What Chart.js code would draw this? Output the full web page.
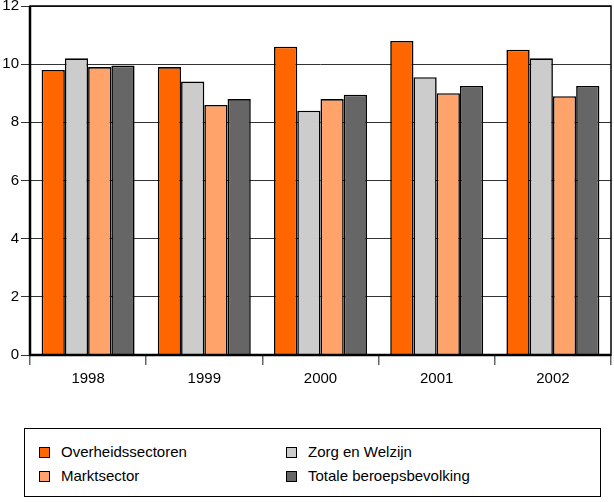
<!DOCTYPE html>
<html>
<head>
<meta charset="utf-8">
<script src="https://cdn.jsdelivr.net/npm/chart.js@4"></script>
<style>
  html, body { margin: 0; padding: 0; background: #fff; }
  body { width: 614px; height: 502px; position: relative; font-family: "Liberation Sans", Arial, sans-serif; }
  #wrap { position: absolute; left: 0; top: 0; width: 614px; height: 400px; }
  #legend {
    position: absolute; left: 24px; top: 428px; width: 577px; height: 69px;
    border: 1.5px solid #000; box-sizing: border-box;
  }
  .item { position: absolute; font-size: 15px; color: #000; line-height: 18px; }
  .item i {
    position: absolute; left: -22px; top: 4px; width: 9px; height: 9px;
    border: 1.5px solid #000;
  }
</style>
</head>
<body>
<div id="wrap"><canvas id="chart" width="614" height="400"></canvas></div>
<div id="legend"></div>
<script>
'use strict';

const years = ['1998', '1999', '2000', '2001', '2002'];
const seriesNames = ['Overheidssectoren', 'Zorg en Welzijn', 'Marktsector', 'Totale beroepsbevolking'];
const overheid = [9.8, 9.9, 10.6, 10.8, 10.5];
const zorg = [10.2, 9.4, 8.4, 9.55, 10.2];
const markt = [9.9, 8.6, 8.8, 9.0, 8.9];
const totaal = [9.95, 8.8, 8.95, 9.25, 9.25];
const yTicks = [0, 2, 4, 6, 8, 10, 12];

const colors = ['#ff6600', '#cccccc', '#ffa36b', '#666666'];
const seriesData = [overheid, zorg, markt, totaal];

// border round the plot area
const frame = {
    id: 'frame',
    afterDraw(chart) {
        const { ctx, chartArea: a } = chart;
        ctx.save();
        ctx.strokeStyle = '#000';
        ctx.lineWidth = 1.5;
        ctx.strokeRect(a.left, a.top, a.right - a.left, a.bottom - a.top);
        ctx.lineWidth = 2.5;
        ctx.beginPath();
        ctx.moveTo(a.left, a.top);
        ctx.lineTo(a.left, a.bottom);
        ctx.lineTo(a.right, a.bottom);
        ctx.stroke();
        ctx.restore();
    }
};

new Chart(document.getElementById('chart'), {
    type: 'bar',
    data: {
        labels: years,
        datasets: seriesNames.map((name, i) => ({
            label: name,
            data: seriesData[i],
            backgroundColor: colors[i],
            borderColor: '#000',
            borderWidth: 1.6,
            borderSkipped: 'bottom'
        }))
    },
    options: {
        responsive: false,
        animation: false,
        layout: { padding: { top: 6, right: 3, left: 0, bottom: 0 } },
        plugins: { legend: { display: false }, tooltip: { enabled: false } },
        datasets: { bar: { barPercentage: 1, categoryPercentage: 0.8 } },
        scales: {
            x: {
                grid: { display: true, drawOnChartArea: false, offset: true, tickLength: 10, color: '#666', lineWidth: 1.5 },
                border: { display: false },
                ticks: { color: '#000', font: { size: 15, family: '"Liberation Sans", Arial, sans-serif' }, padding: 5, maxRotation: 0 },
                afterFit(scale) { scale.height = 45; }
            },
            y: {
                min: 0, max: 12,
                afterBuildTicks(scale) { scale.ticks = yTicks.map(v => ({ value: v })); },
                grid: { color: '#333', lineWidth: 1, tickLength: 9 },
                border: { display: false },
                ticks: { color: '#000', font: { size: 15, family: '"Liberation Sans", Arial, sans-serif' }, padding: 2 },
                afterFit(scale) {
                    scale.width = 30;
                    scale.paddingTop = 0;
                    scale.paddingBottom = 0;
                }
            }
        }
    },
    plugins: [frame]
});

// legend
const legend = document.getElementById('legend');
const pos = [[36, 14], [283, 14], [36, 38], [283, 38]];
seriesNames.forEach((name, s) => {
    const d = document.createElement('div');
    d.className = 'item';
    d.style.left = pos[s][0] + 'px';
    d.style.top = pos[s][1] + 'px';
    d.innerHTML = '<i style="background:' + colors[s] + '"></i>' + name;
    legend.appendChild(d);
});
</script>
</body>
</html>
